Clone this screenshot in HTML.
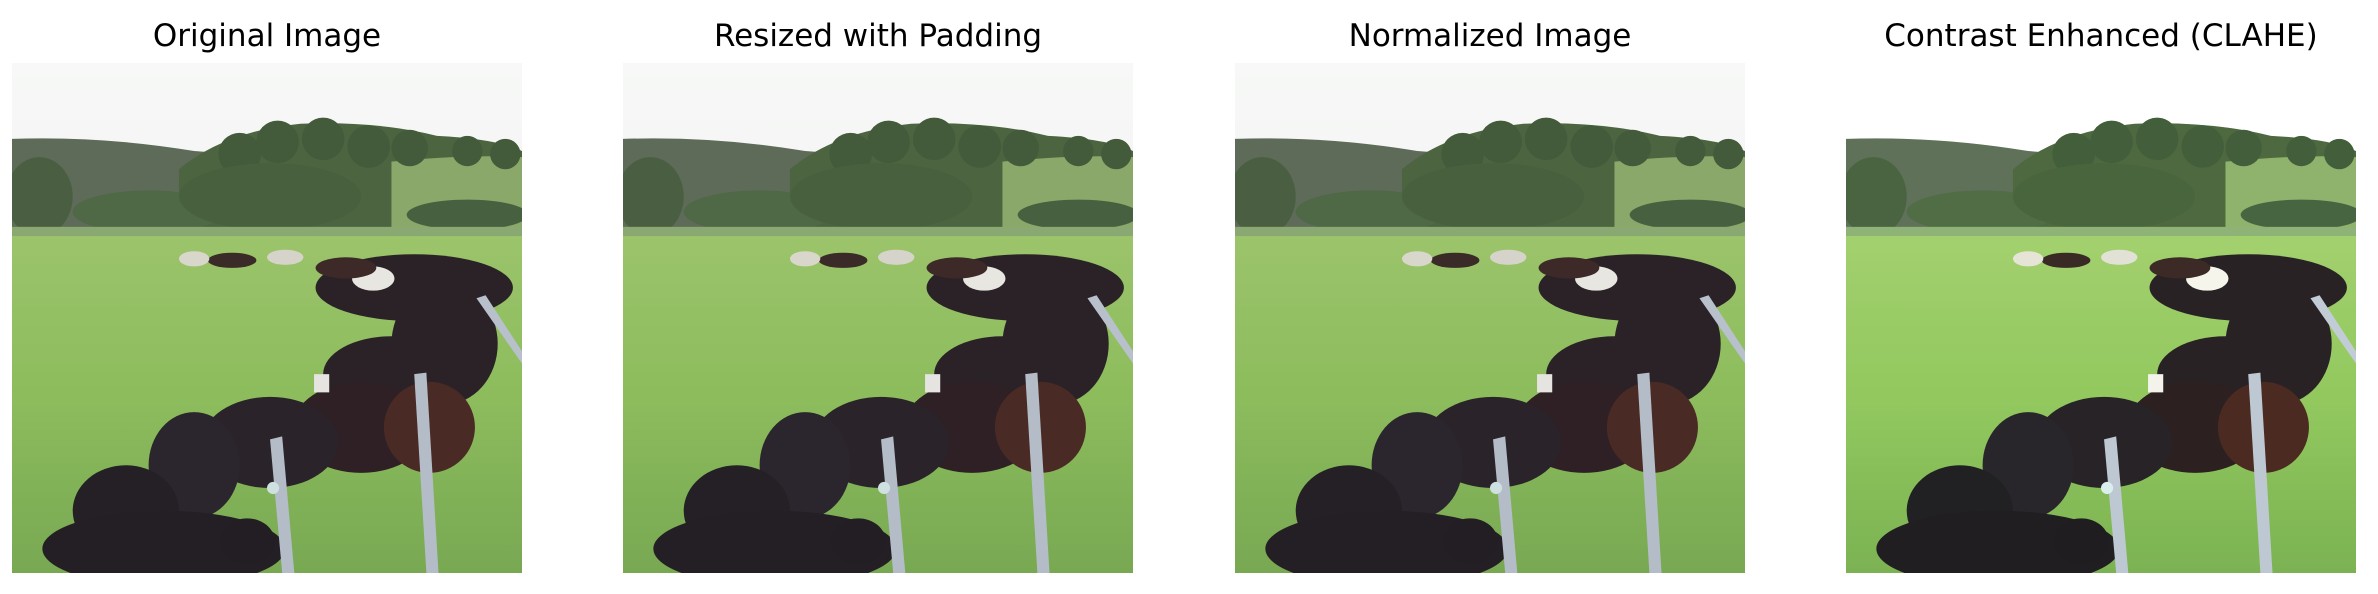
<!DOCTYPE html>
<html><head><meta charset="utf-8"><style>
body{margin:0;width:2378px;height:594px;background:#fff;overflow:hidden;position:relative;font-family:"DejaVu Sans","Liberation Sans",sans-serif}
.t{position:absolute;top:18px;width:510px;text-align:center;font-size:31px;color:#000;white-space:nowrap}
svg.p{position:absolute;top:63px;width:510px;height:510px}
</style></head><body>
<svg width="0" height="0" style="position:absolute">
<defs>
<linearGradient id="sky" x1="0" y1="0" x2="0" y2="1"><stop offset="0" stop-color="#f7f8f7"/><stop offset="1" stop-color="#e9ede9"/></linearGradient>
<linearGradient id="grass" x1="0" y1="0" x2="0" y2="1"><stop offset="0" stop-color="#9cc46c"/><stop offset="0.5" stop-color="#8cbc5c"/><stop offset="1" stop-color="#78a852"/></linearGradient>
<symbol id="scene" viewBox="0 0 336 336">
<rect width="336" height="336" fill="url(#sky)"/>
<path d="M0 50 Q60 48 120 58 L200 64 L200 110 L0 110Z" fill="#5e6b58"/>
<path d="M110 70 Q140 45 190 40 Q240 38 280 48 Q320 50 336 58 L336 112 L110 112Z" fill="#4d6440"/>
<path d="M250 65 Q300 60 336 62 L336 110 L250 110Z" fill="#8aa86a"/>
<g fill="#435a3b">
<circle cx="150" cy="60" r="14"/><circle cx="175" cy="52" r="14"/><circle cx="205" cy="50" r="14"/><circle cx="235" cy="55" r="14"/><circle cx="262" cy="56" r="12"/><circle cx="300" cy="58" r="10"/><circle cx="325" cy="60" r="10"/>
</g>
<ellipse cx="18" cy="88" rx="22" ry="26" fill="#4a5f42"/>
<ellipse cx="90" cy="98" rx="50" ry="14" fill="#4f6845"/>
<ellipse cx="170" cy="88" rx="60" ry="22" fill="#48603e"/>
<ellipse cx="300" cy="100" rx="40" ry="10" fill="#476040"/>
<rect x="0" y="108" width="336" height="228" fill="url(#grass)"/>
<rect x="0" y="108" width="336" height="6" fill="#8aa872"/>
<g fill="#2a2227">
<ellipse cx="145" cy="130" rx="16" ry="5" fill="#3a2a28"/>
<ellipse cx="120" cy="129" rx="10" ry="5" fill="#d9d6cc"/>
<ellipse cx="180" cy="128" rx="12" ry="5" fill="#d6d3ca"/>
<ellipse cx="265" cy="148" rx="65" ry="22"/>
<ellipse cx="285" cy="185" rx="35" ry="40"/>
<ellipse cx="238" cy="142" rx="14" ry="8" fill="#e8e6e0"/>
<ellipse cx="220" cy="135" rx="20" ry="7" fill="#3d2a28"/>
<ellipse cx="250" cy="205" rx="45" ry="25"/>
<ellipse cx="230" cy="240" rx="45" ry="30" fill="#2e2024"/>
<ellipse cx="275" cy="240" rx="30" ry="30" fill="#4a2a24"/>
<ellipse cx="170" cy="250" rx="45" ry="30" fill="#2a2329"/>
<ellipse cx="120" cy="265" rx="30" ry="35" fill="#2b262d"/>
<ellipse cx="75" cy="295" rx="35" ry="30" fill="#242026"/>
<ellipse cx="100" cy="320" rx="80" ry="25" fill="#241f25"/>
<ellipse cx="155" cy="315" rx="18" ry="15" fill="#231e23"/>
</g>
<rect x="199" y="205" width="10" height="12" fill="#e6e4e0"/>
<path d="M170 248 L178 246 L186 336 L178 336Z" fill="#b4bcc8"/>
<path d="M265 205 L273 204 L281 336 L273 336Z" fill="#b4bcc8"/>
<path d="M306 155 L312 153 L336 190 L336 198Z" fill="#b8c0cc"/>
<circle cx="172" cy="280" r="4" fill="#cfe0e0"/>
</symbol>
<filter id="clahe" color-interpolation-filters="sRGB"><feComponentTransfer><feFuncR type="linear" slope="1.08" intercept="-0.02"/><feFuncG type="linear" slope="1.08" intercept="-0.01"/><feFuncB type="linear" slope="1.08" intercept="-0.02"/></feComponentTransfer></filter>
</defs></svg>

<div class="t" style="left:12px">Original Image</div>
<div class="t" style="left:623px">Resized with Padding</div>
<div class="t" style="left:1235px">Normalized Image</div>
<div class="t" style="left:1846px">Contrast Enhanced (CLAHE)</div>

<svg class="p" style="left:12px" viewBox="0 0 336 336"><use href="#scene"/></svg>
<svg class="p" style="left:623px" viewBox="0 0 336 336"><use href="#scene"/></svg>
<svg class="p" style="left:1235px" viewBox="0 0 336 336"><use href="#scene"/></svg>
<svg class="p" style="left:1846px" viewBox="0 0 336 336"><use href="#scene" filter="url(#clahe)"/></svg>
</body></html>
